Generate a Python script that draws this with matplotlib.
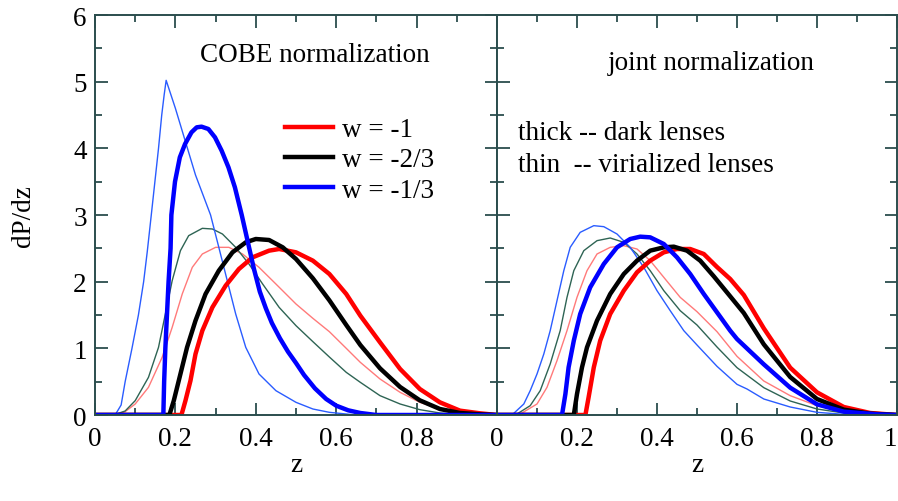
"""
Lens redshift distributions dP/dz for three equations of state,
COBE normalization vs joint normalization.
"""

import matplotlib
matplotlib.use("Agg")
import matplotlib.pyplot as plt
from matplotlib.ticker import MultipleLocator, FixedLocator, FixedFormatter


# ---- data ---------------------------------------------------------------
# COBE normalization, thin curves (virialized lenses)
cobe_thin_red_z = [0, 0.05, 0.075, 0.1, 0.133, 0.167, 0.192, 0.217, 0.242, 0.267, 0.3,
                   0.333, 0.367, 0.408, 0.45, 0.5, 0.542, 0.583, 0.625, 0.66, 0.709,
                   0.759, 0.808, 0.858, 0.908, 0.958, 1.0]
cobe_thin_red_p = [0, 0, 0.05, 0.165, 0.415, 0.865, 1.315, 1.815, 2.215, 2.415, 2.515,
                   2.515, 2.415, 2.215, 1.965, 1.665, 1.45, 1.25, 1.0, 0.79, 0.54,
                   0.34, 0.19, 0.09, 0.03, 0.01, 0]

cobe_thin_black_z = [0, 0.046, 0.075, 0.1, 0.133, 0.158, 0.175, 0.192, 0.2125, 0.233, 0.267,
                     0.292, 0.317, 0.35, 0.383, 0.417, 0.458, 0.5, 0.542, 0.583, 0.625,
                     0.66, 0.709, 0.759, 0.808, 0.858, 0.908, 1.0]
cobe_thin_black_p = [0, 0, 0.06, 0.215, 0.565, 1.015, 1.515, 2.015, 2.465, 2.69, 2.8,
                     2.79, 2.715, 2.515, 2.265, 1.965, 1.615, 1.34, 1.1, 0.87, 0.64,
                     0.49, 0.29, 0.165, 0.08, 0.03, 0.01, 0]

cobe_thin_blue_z = [0, 0.05, 0.065, 0.075, 0.092, 0.108, 0.121, 0.13, 0.14, 0.149, 0.158,
                    0.166, 0.172, 0.177, 0.2, 0.225, 0.25, 0.2875, 0.308, 0.329, 0.35,
                    0.375, 0.408, 0.45, 0.5, 0.542, 0.583, 0.65, 1.0]
cobe_thin_blue_p = [0, 0, 0.15, 0.5, 1.0, 1.5, 2.0, 2.45, 3.0, 3.5, 4.0,
                    4.5, 4.8, 5.02, 4.6, 4.1, 3.6, 3.0, 2.515, 2.015, 1.515,
                    1.015, 0.615, 0.365, 0.19, 0.09, 0.04, 0, 0]

# COBE normalization, thick curves (dark lenses)
cobe_thick_red_z = [0, 0.215, 0.225, 0.2375, 0.25, 0.267, 0.292, 0.325, 0.358, 0.392, 0.433,
                    0.458, 0.5, 0.542, 0.583, 0.625, 0.66, 0.709, 0.759, 0.808, 0.858,
                    0.908, 0.958, 1.0]
cobe_thick_red_p = [0, 0, 0.215, 0.515, 0.915, 1.265, 1.615, 1.94, 2.19, 2.365, 2.465,
                    2.49, 2.44, 2.315, 2.115, 1.815, 1.49, 1.09, 0.69, 0.39, 0.19,
                    0.065, 0.025, 0]

cobe_thick_black_z = [0, 0.185, 0.196, 0.2125, 0.229, 0.25, 0.275, 0.308, 0.342, 0.375, 0.4,
                      0.433, 0.467, 0.5, 0.542, 0.583, 0.625, 0.66, 0.709, 0.759, 0.808,
                      0.858, 0.908, 0.958, 1.0]
cobe_thick_black_p = [0, 0, 0.215, 0.615, 1.015, 1.415, 1.815, 2.165, 2.44, 2.59, 2.64,
                      2.625, 2.515, 2.34, 2.05, 1.72, 1.35, 1.05, 0.7, 0.42, 0.22,
                      0.09, 0.03, 0.01, 0]

cobe_thick_blue_z = [0, 0.17, 0.172, 0.175, 0.179, 0.183, 0.188, 0.19, 0.199, 0.211, 0.224,
                     0.24, 0.253, 0.265, 0.282, 0.2985, 0.315, 0.332, 0.348, 0.365, 0.38,
                     0.395, 0.41, 0.425, 0.44, 0.46, 0.48, 0.5, 0.52, 0.547, 0.575,
                     0.6, 0.63, 0.66, 0.7, 1.0]
cobe_thick_blue_p = [0, 0, 0.5, 1.0, 1.5, 2.0, 2.5, 3.0, 3.5, 3.865, 4.065,
                     4.24, 4.315, 4.325, 4.29, 4.165, 3.965, 3.715, 3.415, 3.0, 2.6,
                     2.2, 1.85, 1.6, 1.38, 1.15, 0.95, 0.78, 0.6, 0.4, 0.24,
                     0.14, 0.07, 0.03, 0, 0]

# joint normalization, thin curves
joint_thin_red_z = [0, 0.054, 0.1, 0.125, 0.15, 0.175, 0.2, 0.225, 0.25, 0.283, 0.317,
                    0.35, 0.383, 0.417, 0.458, 0.5, 0.55, 0.6, 0.667, 0.733, 0.8,
                    0.867, 0.95, 1.0]
joint_thin_red_p = [0, 0, 0.165, 0.415, 0.815, 1.265, 1.765, 2.165, 2.415, 2.515, 2.54,
                    2.49, 2.315, 2.065, 1.765, 1.55, 1.25, 0.88, 0.51, 0.29, 0.14,
                    0.05, 0.01, 0]

joint_thin_black_z = [0, 0.046, 0.083, 0.108, 0.133, 0.158, 0.175, 0.192, 0.217, 0.25, 0.283,
                      0.317, 0.35, 0.383, 0.417, 0.458, 0.5, 0.55, 0.6, 0.667, 0.733,
                      0.8, 0.867, 0.95, 1.0]
joint_thin_black_p = [0, 0, 0.14, 0.365, 0.765, 1.265, 1.765, 2.165, 2.465, 2.615, 2.655,
                      2.59, 2.415, 2.165, 1.865, 1.565, 1.35, 1.02, 0.71, 0.41, 0.21,
                      0.09, 0.03, 0, 0]

joint_thin_blue_z = [0, 0.0375, 0.067, 0.083, 0.1, 0.117, 0.133, 0.15, 0.167, 0.183, 0.208,
                     0.242, 0.267, 0.3, 0.333, 0.367, 0.4, 0.433, 0.467, 0.5, 0.55,
                     0.6, 0.625, 0.667, 0.733, 0.8, 0.867, 0.95, 1.0]
joint_thin_blue_p = [0, 0, 0.165, 0.365, 0.615, 0.915, 1.265, 1.715, 2.165, 2.515, 2.74,
                     2.84, 2.825, 2.715, 2.515, 2.215, 1.865, 1.565, 1.265, 1.05, 0.73,
                     0.46, 0.39, 0.24, 0.12, 0.04, 0.01, 0, 0]

# joint normalization, thick curves
joint_thick_red_z = [0, 0.221, 0.229, 0.242, 0.258, 0.283, 0.317, 0.35, 0.383, 0.417, 0.45,
                     0.483, 0.517, 0.55, 0.583, 0.617, 0.667, 0.733, 0.8, 0.867, 0.933, 1.0]
joint_thick_red_p = [0, 0, 0.265, 0.715, 1.115, 1.515, 1.865, 2.14, 2.315, 2.44, 2.49,
                     2.49, 2.415, 2.22, 2.04, 1.8, 1.3, 0.71, 0.34, 0.12, 0.03, 0]

joint_thick_black_z = [0, 0.192, 0.2, 0.2125, 0.225, 0.25, 0.283, 0.317, 0.35, 0.383, 0.417,
                       0.442, 0.475, 0.508, 0.542, 0.583, 0.617, 0.667, 0.733, 0.8, 0.867,
                       0.933, 1.0]
joint_thick_black_p = [0, 0, 0.315, 0.715, 1.015, 1.415, 1.815, 2.115, 2.315, 2.465, 2.515,
                       2.525, 2.465, 2.315, 2.08, 1.78, 1.53, 1.06, 0.57, 0.24, 0.08,
                       0.02, 0]

joint_thick_blue_z = [0, 0.1625, 0.171, 0.179, 0.192, 0.208, 0.233, 0.267, 0.3, 0.333, 0.358,
                      0.383, 0.417, 0.45, 0.483, 0.517, 0.55, 0.583, 0.6, 0.667, 0.733,
                      0.8, 0.867, 0.95, 1.0]
joint_thick_blue_p = [0, 0, 0.315, 0.715, 1.115, 1.515, 1.915, 2.265, 2.515, 2.64, 2.675,
                      2.665, 2.565, 2.365, 2.115, 1.815, 1.54, 1.265, 1.14, 0.76, 0.41,
                      0.16, 0.05, 0.01, 0]

legend_labels = ["w = -1", "w = -2/3", "w = -1/3"]
x_ticks = [0, 0.2, 0.4, 0.6, 0.8, 1.0]
left_x_labels = ["0", "0.2", "0.4", "0.6", "0.8", ""]
right_x_labels = ["0", "0.2", "0.4", "0.6", "0.8", "1"]
y_ticks = [0, 1, 2, 3, 4, 5, 6]

# ---- styling -------------------------------------------------------------
FS = 19.5
AXIS_COLOR = "#2b4d4d"
THICK = 3.2
THIN = 1.0
THICK_COLORS = ["#ff0000", "#000000", "#0000ff"]
THIN_COLORS = ["#ff7a7a", "#2e6454", "#2a5cff"]

plt.rcParams["font.family"] = ["Liberation Serif", "DejaVu Serif"]


def style_axes(ax, xlabels, show_y):
    ax.set_xlim(0, 1)
    ax.set_ylim(0, 6)
    ax.xaxis.set_major_locator(FixedLocator(x_ticks))
    ax.xaxis.set_major_formatter(FixedFormatter(xlabels))
    ax.xaxis.set_minor_locator(MultipleLocator(0.1))
    ax.yaxis.set_major_locator(FixedLocator(y_ticks))
    ax.yaxis.set_minor_locator(MultipleLocator(0.5))
    ax.tick_params(which="both", direction="in", top=True, right=True,
                   color=AXIS_COLOR, width=1.3, labelsize=FS)
    ax.tick_params(which="major", length=9)
    ax.tick_params(which="minor", length=5)
    ax.tick_params(axis="x", pad=8)
    ax.tick_params(axis="y", pad=6)
    if not show_y:
        ax.set_yticklabels([])
    for sp in ax.spines.values():
        sp.set_color(AXIS_COLOR)
        sp.set_linewidth(1.4)
    ax.set_xlabel("z", fontsize=FS, labelpad=1)


def draw_panel(ax, thin_sets, thick_sets):
    for (z, p), c in zip(thin_sets, THIN_COLORS):
        ax.plot(z, p, color=c, lw=THIN, solid_joinstyle="round")
    handles = []
    for (z, p), c, lab in zip(thick_sets, THICK_COLORS, legend_labels):
        h, = ax.plot(z, p, color=c, lw=THICK, label=lab, solid_joinstyle="round")
        handles.append(h)
    return handles


fig = plt.figure(figsize=(8.98, 5.02), dpi=100)
ax1 = fig.add_axes([95 / 898, 1 - 416 / 502, 402 / 898, 400 / 502])
ax2 = fig.add_axes([497 / 898, 1 - 416 / 502, 400 / 898, 400 / 502])

# left panel: COBE
handles = draw_panel(
    ax1,
    [(cobe_thin_red_z, cobe_thin_red_p),
     (cobe_thin_black_z, cobe_thin_black_p),
     (cobe_thin_blue_z, cobe_thin_blue_p)],
    [(cobe_thick_red_z, cobe_thick_red_p),
     (cobe_thick_black_z, cobe_thick_black_p),
     (cobe_thick_blue_z, cobe_thick_blue_p)],
)
style_axes(ax1, left_x_labels, True)
ax1.set_ylabel("dP/dz", fontsize=FS, labelpad=27)
ax1.text(0.547, 5.41, "COBE normalization", fontsize=FS, ha="center", va="center")
ax1.legend(handles=handles, loc="upper left", bbox_to_anchor=(0.472, 0.745),
           frameon=False, fontsize=FS, handlelength=1.8, handletextpad=0.3,
           labelspacing=0.2, borderpad=0, borderaxespad=0)

# right panel: joint
draw_panel(
    ax2,
    [(joint_thin_red_z, joint_thin_red_p),
     (joint_thin_black_z, joint_thin_black_p),
     (joint_thin_blue_z, joint_thin_blue_p)],
    [(joint_thick_red_z, joint_thick_red_p),
     (joint_thick_black_z, joint_thick_black_p),
     (joint_thick_blue_z, joint_thick_blue_p)],
)
style_axes(ax2, right_x_labels, False)
ax2.get_xticklabels()[-1].set_ha("right")
ax2.text(0.535, 5.29, "joint normalization", fontsize=FS, ha="center", va="center")
ax2.text(0.053, 4.24, "thick -- dark lenses", fontsize=FS, ha="left", va="center")
ax2.text(0.053, 3.76, "thin  -- virialized lenses", fontsize=FS, ha="left", va="center")

fig.savefig("out.png", dpi=100)
